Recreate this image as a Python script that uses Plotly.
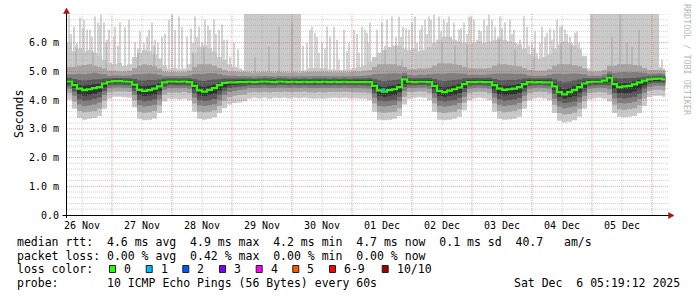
import numpy as np
import pandas as pd
import plotly.graph_objects as go

# ------------------------------------------------------------------ data
T_START = "2025-11-26 06:00"
T_DATA_END = "2025-12-06 05:19"
X_END = "2025-12-06 06:24"
SLOT_HOURS = 2

# sorted-ping envelopes (ms) per 2h slot, layer 1 = min/max ... layer 5 = p5/p6
lo1 = [4.02, 3.70, 3.38, 3.32, 3.35, 3.38, 3.45, 3.70, 4.05,
       4.12, 4.12, 4.10, 4.08, 3.75, 3.35, 3.30, 3.32, 3.36, 3.55, 3.95, 4.05,
       4.05, 4.02, 4.05, 4.00, 3.60, 3.35, 3.32, 3.35, 3.40, 3.55, 3.72, 3.85,
       3.90, 3.92, 3.95, 4.05, 4.08, 4.06, 4.08, 4.05, 4.08, 4.07, 4.08, 4.06,
       4.08, 4.07, 4.08, 4.06, 4.05, 4.06, 4.05, 4.07, 4.08, 4.07, 4.08, 4.06,
       4.06, 4.05, 4.05, 4.00, 3.60, 3.32, 3.30, 3.32, 3.35, 3.45, 3.85, 4.05,
       4.08, 4.10, 4.08, 4.00, 3.60, 3.32, 3.30, 3.32, 3.35, 3.42, 3.65, 4.00,
       4.06, 4.08, 4.06, 4.00, 3.60, 3.35, 3.32, 3.33, 3.35, 3.42, 3.70, 4.00,
       4.06, 4.08, 4.06, 4.00, 3.55, 3.28, 3.22, 3.25, 3.30, 3.42, 3.70, 4.02,
       4.06, 4.08, 4.05, 3.95, 3.55, 3.42, 3.40, 3.42, 3.45, 3.55, 3.80, 4.10,
       4.15, 4.15, 4.12]
lo2 = [4.25, 3.95, 3.62, 3.58, 3.60, 3.62, 3.70, 3.98, 4.27,
       4.30, 4.30, 4.30, 4.28, 4.00, 3.60, 3.56, 3.58, 3.62, 3.82, 4.20, 4.27,
       4.27, 4.26, 4.28, 4.25, 3.88, 3.60, 3.58, 3.60, 3.65, 3.80, 3.98, 4.10,
       4.15, 4.18, 4.20, 4.27, 4.28, 4.27, 4.28, 4.27, 4.28, 4.28, 4.29, 4.28,
       4.28, 4.28, 4.29, 4.27, 4.27, 4.28, 4.27, 4.28, 4.28, 4.28, 4.29, 4.28,
       4.27, 4.27, 4.27, 4.24, 3.88, 3.58, 3.56, 3.58, 3.60, 3.72, 4.12, 4.28,
       4.28, 4.30, 4.29, 4.24, 3.88, 3.58, 3.55, 3.58, 3.60, 3.68, 3.92, 4.24,
       4.28, 4.29, 4.28, 4.24, 3.88, 3.62, 3.58, 3.60, 3.62, 3.68, 3.96, 4.24,
       4.28, 4.29, 4.28, 4.24, 3.84, 3.55, 3.50, 3.52, 3.56, 3.70, 3.96, 4.25,
       4.27, 4.28, 4.27, 4.20, 3.84, 3.68, 3.66, 3.68, 3.72, 3.82, 4.06, 4.32,
       4.36, 4.36, 4.34]
lo3 = [4.40, 4.15, 3.85, 3.80, 3.82, 3.85, 3.92, 4.18, 4.42,
       4.44, 4.44, 4.43, 4.42, 4.18, 3.82, 3.78, 3.80, 3.84, 4.02, 4.36, 4.42,
       4.42, 4.41, 4.42, 4.40, 4.08, 3.82, 3.80, 3.82, 3.86, 4.00, 4.18, 4.28,
       4.32, 4.35, 4.37, 4.42, 4.42, 4.42, 4.43, 4.42, 4.42, 4.43, 4.43, 4.42,
       4.43, 4.42, 4.43, 4.42, 4.42, 4.42, 4.42, 4.42, 4.43, 4.42, 4.43, 4.42,
       4.42, 4.42, 4.41, 4.40, 4.08, 3.80, 3.78, 3.80, 3.83, 3.95, 4.32, 4.42,
       4.42, 4.43, 4.43, 4.40, 4.08, 3.80, 3.77, 3.80, 3.82, 3.90, 4.12, 4.40,
       4.42, 4.43, 4.42, 4.40, 4.08, 3.84, 3.80, 3.82, 3.84, 3.90, 4.15, 4.40,
       4.42, 4.43, 4.42, 4.40, 4.05, 3.78, 3.72, 3.75, 3.78, 3.92, 4.15, 4.40,
       4.42, 4.43, 4.42, 4.38, 4.06, 3.90, 3.88, 3.90, 3.94, 4.04, 4.26, 4.46,
       4.50, 4.50, 4.49]
lo4 = [4.50, 4.30, 4.02, 3.98, 4.00, 4.05, 4.10, 4.32, 4.52,
       4.53, 4.54, 4.53, 4.52, 4.32, 4.00, 3.96, 3.98, 4.02, 4.18, 4.47, 4.52,
       4.52, 4.51, 4.52, 4.50, 4.24, 4.00, 3.97, 4.00, 4.04, 4.18, 4.33, 4.42,
       4.45, 4.47, 4.48, 4.52, 4.52, 4.52, 4.53, 4.52, 4.52, 4.53, 4.53, 4.52,
       4.53, 4.52, 4.53, 4.52, 4.52, 4.52, 4.52, 4.52, 4.53, 4.52, 4.53, 4.52,
       4.52, 4.52, 4.51, 4.50, 4.24, 3.98, 3.96, 3.98, 4.00, 4.12, 4.46, 4.52,
       4.52, 4.53, 4.53, 4.50, 4.24, 3.98, 3.95, 3.98, 4.00, 4.08, 4.28, 4.50,
       4.52, 4.53, 4.52, 4.50, 4.24, 4.02, 3.98, 4.00, 4.02, 4.08, 4.30, 4.50,
       4.52, 4.53, 4.52, 4.50, 4.22, 3.96, 3.90, 3.93, 3.96, 4.10, 4.30, 4.50,
       4.52, 4.53, 4.53, 4.52, 4.24, 4.08, 4.06, 4.08, 4.12, 4.22, 4.40, 4.57,
       4.60, 4.60, 4.59]
lo5 = [4.57, 4.42, 4.20, 4.15, 4.18, 4.22, 4.28, 4.45, 4.58,
       4.60, 4.60, 4.59, 4.58, 4.44, 4.18, 4.14, 4.16, 4.20, 4.32, 4.55, 4.58,
       4.58, 4.58, 4.58, 4.57, 4.38, 4.17, 4.14, 4.18, 4.22, 4.34, 4.45, 4.52,
       4.54, 4.55, 4.56, 4.58, 4.58, 4.58, 4.59, 4.58, 4.58, 4.59, 4.59, 4.58,
       4.59, 4.58, 4.59, 4.58, 4.58, 4.58, 4.58, 4.58, 4.59, 4.58, 4.59, 4.58,
       4.58, 4.58, 4.58, 4.57, 4.37, 4.15, 4.12, 4.15, 4.18, 4.28, 4.56, 4.58,
       4.58, 4.59, 4.59, 4.57, 4.38, 4.15, 4.12, 4.15, 4.18, 4.25, 4.42, 4.57,
       4.58, 4.59, 4.58, 4.57, 4.38, 4.20, 4.16, 4.18, 4.20, 4.26, 4.43, 4.57,
       4.58, 4.59, 4.58, 4.57, 4.36, 4.12, 4.06, 4.10, 4.14, 4.27, 4.43, 4.57,
       4.58, 4.59, 4.60, 4.62, 4.40, 4.25, 4.24, 4.26, 4.30, 4.38, 4.52, 4.64,
       4.67, 4.67, 4.66]
median = [4.65, 4.52, 4.40, 4.35, 4.38, 4.42, 4.45, 4.58, 4.64,
          4.66, 4.66, 4.65, 4.64, 4.54, 4.36, 4.32, 4.35, 4.40, 4.48, 4.62, 4.65,
          4.65, 4.64, 4.65, 4.63, 4.50, 4.34, 4.30, 4.36, 4.42, 4.52, 4.60, 4.62,
          4.62, 4.63, 4.63, 4.64, 4.63, 4.64, 4.65, 4.64, 4.63, 4.65, 4.64, 4.63,
          4.64, 4.63, 4.64, 4.63, 4.64, 4.63, 4.64, 4.63, 4.64, 4.63, 4.64, 4.63,
          4.63, 4.63, 4.63, 4.63, 4.50, 4.34, 4.30, 4.35, 4.38, 4.45, 4.72, 4.64,
          4.63, 4.64, 4.64, 4.63, 4.50, 4.32, 4.28, 4.33, 4.38, 4.44, 4.56, 4.63,
          4.63, 4.64, 4.63, 4.63, 4.52, 4.40, 4.36, 4.38, 4.40, 4.45, 4.56, 4.63,
          4.62, 4.63, 4.62, 4.62, 4.48, 4.28, 4.20, 4.28, 4.35, 4.45, 4.58, 4.63,
          4.64, 4.64, 4.68, 4.78, 4.56, 4.45, 4.48, 4.50, 4.55, 4.62, 4.68, 4.72,
          4.74, 4.75, 4.72]
hi5 = [4.70, 4.62, 4.52, 4.50, 4.52, 4.55, 4.57, 4.65, 4.70,
       4.71, 4.71, 4.70, 4.70, 4.62, 4.50, 4.48, 4.50, 4.53, 4.58, 4.68, 4.70,
       4.70, 4.69, 4.70, 4.69, 4.60, 4.48, 4.46, 4.50, 4.54, 4.60, 4.66, 4.68,
       4.68, 4.68, 4.68, 4.69, 4.68, 4.69, 4.70, 4.69, 4.68, 4.70, 4.69, 4.68,
       4.69, 4.68, 4.69, 4.68, 4.69, 4.68, 4.69, 4.68, 4.69, 4.68, 4.69, 4.68,
       4.68, 4.68, 4.68, 4.69, 4.60, 4.48, 4.45, 4.48, 4.50, 4.56, 4.78, 4.70,
       4.69, 4.70, 4.70, 4.70, 4.60, 4.47, 4.44, 4.47, 4.50, 4.55, 4.64, 4.69,
       4.69, 4.70, 4.69, 4.70, 4.60, 4.52, 4.50, 4.50, 4.52, 4.56, 4.64, 4.69,
       4.68, 4.69, 4.68, 4.68, 4.58, 4.44, 4.38, 4.42, 4.48, 4.55, 4.65, 4.69,
       4.69, 4.70, 4.73, 4.83, 4.65, 4.58, 4.60, 4.60, 4.65, 4.70, 4.74, 4.77,
       4.79, 4.80, 4.78]
hi4 = [4.78, 4.74, 4.70, 4.68, 4.70, 4.72, 4.73, 4.75, 4.76,
       4.77, 4.77, 4.76, 4.76, 4.74, 4.68, 4.68, 4.70, 4.70, 4.72, 4.75, 4.76,
       4.76, 4.75, 4.76, 4.76, 4.73, 4.68, 4.67, 4.70, 4.72, 4.73, 4.75, 4.75,
       4.75, 4.75, 4.75, 4.75, 4.74, 4.75, 4.76, 4.75, 4.74, 4.76, 4.75, 4.74,
       4.75, 4.74, 4.75, 4.74, 4.75, 4.75, 4.75, 4.74, 4.75, 4.74, 4.75, 4.74,
       4.75, 4.75, 4.75, 4.76, 4.73, 4.68, 4.66, 4.68, 4.70, 4.72, 4.85, 4.77,
       4.76, 4.77, 4.77, 4.78, 4.74, 4.68, 4.66, 4.68, 4.70, 4.72, 4.76, 4.77,
       4.77, 4.77, 4.77, 4.78, 4.74, 4.70, 4.69, 4.70, 4.70, 4.72, 4.75, 4.76,
       4.75, 4.75, 4.75, 4.76, 4.72, 4.66, 4.62, 4.65, 4.68, 4.72, 4.76, 4.76,
       4.76, 4.76, 4.80, 4.90, 4.78, 4.75, 4.76, 4.76, 4.78, 4.80, 4.82, 4.83,
       4.85, 4.86, 4.84]
hi3 = [4.90, 4.90, 4.92, 4.90, 4.93, 4.95, 4.92, 4.90, 4.85,
       4.86, 4.86, 4.85, 4.86, 4.90, 4.90, 4.92, 4.93, 4.92, 4.88, 4.85, 4.84,
       4.84, 4.83, 4.84, 4.86, 4.90, 4.92, 4.92, 4.94, 4.94, 4.90, 4.87, 4.85,
       4.85, 4.84, 4.84, 4.83, 4.82, 4.83, 4.84, 4.83, 4.82, 4.84, 4.83, 4.82,
       4.83, 4.82, 4.83, 4.83, 4.84, 4.84, 4.84, 4.83, 4.83, 4.82, 4.83, 4.83,
       4.84, 4.84, 4.85, 4.87, 4.90, 4.92, 4.92, 4.93, 4.94, 4.92, 4.95, 4.88,
       4.87, 4.88, 4.88, 4.90, 4.92, 4.93, 4.92, 4.94, 4.94, 4.93, 4.92, 4.88,
       4.88, 4.88, 4.88, 4.90, 4.92, 4.93, 4.93, 4.93, 4.92, 4.92, 4.90, 4.86,
       4.85, 4.85, 4.85, 4.88, 4.92, 4.92, 4.90, 4.92, 4.93, 4.92, 4.90, 4.85,
       4.85, 4.85, 4.90, 5.00, 4.95, 4.97, 4.98, 4.97, 4.98, 4.97, 4.95, 4.92,
       4.93, 4.94, 4.92]
hi2 = [5.15, 5.15, 5.20, 5.22, 5.25, 5.20, 5.15, 5.10, 5.02,
       5.02, 5.00, 5.00, 5.02, 5.12, 5.20, 5.25, 5.22, 5.18, 5.10, 5.00, 4.98,
       4.98, 4.97, 4.98, 5.02, 5.15, 5.25, 5.25, 5.25, 5.20, 5.12, 5.05, 5.00,
       5.00, 4.98, 4.98, 4.97, 4.96, 4.97, 4.98, 4.97, 4.96, 4.98, 4.97, 4.96,
       4.97, 4.96, 4.97, 4.98, 4.99, 4.99, 4.99, 4.98, 4.97, 4.97, 4.97, 4.98,
       5.00, 5.00, 5.02, 5.05, 5.15, 5.25, 5.25, 5.25, 5.25, 5.20, 5.15, 5.08,
       5.08, 5.10, 5.10, 5.12, 5.20, 5.28, 5.28, 5.28, 5.25, 5.22, 5.15, 5.10,
       5.10, 5.10, 5.10, 5.12, 5.20, 5.25, 5.25, 5.22, 5.20, 5.18, 5.12, 5.05,
       5.02, 5.02, 5.02, 5.08, 5.20, 5.25, 5.25, 5.25, 5.22, 5.18, 5.10, 5.00,
       5.00, 5.00, 5.05, 5.20, 5.20, 5.25, 5.25, 5.25, 5.22, 5.20, 5.12, 5.05,
       5.05, 5.06, 5.04]
hi1 = [6.00, 5.70, 5.80, 5.70, 5.75, 5.65, 5.55, 5.40, 5.30,
       5.25, 5.30, 5.20, 5.25, 5.50, 5.65, 5.75, 5.70, 5.60, 5.45, 5.20, 5.10,
       5.12, 5.08, 5.10, 5.25, 5.65, 5.85, 5.90, 5.80, 5.70, 5.50, 5.40, 5.25,
       5.15, 5.10, 5.05, 5.05, 5.05, 5.08, 5.10, 5.06, 5.04, 5.08, 5.05, 5.06,
       5.05, 5.02, 5.04, 5.10, 5.12, 5.12, 5.10, 5.08, 5.06, 5.05, 5.06, 5.08,
       5.12, 5.15, 5.20, 5.35, 5.50, 5.65, 5.75, 5.85, 5.90, 5.90, 5.80, 5.75,
       5.80, 5.70, 5.75, 5.85, 6.00, 6.10, 6.20, 6.20, 6.10, 6.05, 6.00, 5.95,
       6.00, 6.05, 6.00, 6.05, 6.10, 6.15, 6.10, 6.05, 6.00, 5.95, 5.80, 5.60,
       5.50, 5.45, 5.50, 5.60, 5.80, 5.95, 6.05, 6.00, 5.90, 5.80, 5.55, 5.10,
       5.10, 5.10, 5.20, 5.50, 5.60, 5.70, 5.70, 5.65, 5.60, 5.55, 5.40, 5.20,
       5.15, 5.15, 5.10]

# periods where the max ping left the top of the graph
over_start = ["2025-11-29 04:48", "2025-12-04 23:12"]
over_end = ["2025-11-30 03:36", "2025-12-06 02:48"]

# single max-ping spikes: hours after T_START, top value (ms)
spike_h = [0.8, 1.6, 2.8, 4.0, 5.2, 6.4, 6.8, 8.0, 9.2, 10.0, 11.2, 12.4, 13.2, 13.6, 14.8,
           16.0, 16.8, 18.8, 19.2, 20.4, 21.2, 23.2, 24.8, 27.2, 29.2, 30.8, 32.0, 32.8,
           34.0, 35.2, 36.4, 38.0, 39.2,
           40.8, 42.0, 43.2, 44.8, 46.0, 48.0, 49.6, 51.2, 52.0, 52.8, 54.0, 55.2, 56.4, 57.2,
           58.8, 59.6, 60.8, 62.0, 62.8, 64.0, 65.2, 66.8, 68.4,
           94.4, 96.0, 97.2, 98.0, 99.2, 100.0, 100.8, 102.0, 103.2, 104.0, 105.2, 106.8,
           108.0, 108.8, 110.8, 112.0, 112.8, 114.8, 116.0, 116.8, 118.0, 119.2,
           120.0, 120.4, 121.2, 124.0, 126.0, 128.0, 130.0, 132.8, 133.6, 134.4, 135.6, 136.8,
           138.0, 139.2, 140.0, 141.2, 142.0, 143.2, 144.0, 144.8, 145.6, 146.8, 148.0, 148.8,
           149.6, 150.8, 152.0, 152.8, 153.6, 154.8, 156.0, 156.8, 157.6, 158.8, 160.0, 160.8,
           161.6, 162.8, 164.0, 164.8, 165.6, 166.8, 168.0, 168.8, 170.0, 171.2, 172.4, 173.2,
           174.0, 175.2, 176.0, 177.2, 178.0, 178.8,
           180.0, 181.2, 182.8, 184.0, 184.8, 186.0, 187.2, 188.0, 189.2, 190.0, 191.2, 192.0,
           193.2, 194.0, 194.8, 196.0, 197.2, 198.0, 199.2, 200.0, 201.2, 202.0, 203.2, 204.0,
           204.8, 206.0, 238.0]
spike_top = [6.98, 6.30, 6.56, 6.00, 6.87, 6.50, 6.80, 6.45, 6.45, 6.20, 6.91, 6.70, 6.60, 6.98, 6.70,
             6.10, 6.45, 6.21, 6.56, 5.90, 6.70, 6.56, 6.80, 6.00, 6.40, 6.00, 6.20, 6.45,
             6.70, 6.10, 6.00, 6.21, 6.30,
             6.80, 6.98, 6.45, 6.91, 6.56, 6.21, 6.50, 6.91, 6.20, 6.56, 6.00, 6.80, 6.60, 6.45,
             6.80, 6.30, 6.45, 6.63, 6.10, 6.10, 5.51, 6.00, 5.76,
             5.90, 6.00, 6.45, 6.56, 6.35, 6.20, 5.65, 6.00, 5.80, 6.56, 6.21, 6.56,
             6.10, 5.41, 6.45, 5.70, 6.00, 6.45, 6.30, 5.65, 6.56, 6.45,
             6.35, 6.00, 6.70, 6.45, 6.70, 6.80, 6.91, 6.91, 6.20, 6.56, 6.50, 6.45,
             6.70, 6.91, 6.00, 6.45, 6.60, 6.80, 6.30, 6.91, 6.80, 6.98, 6.10, 6.91,
             6.40, 6.80, 6.70, 6.91, 6.20, 6.70, 6.00, 6.45, 6.50, 6.70, 6.30, 6.91,
             6.90, 6.80, 6.10, 6.45, 6.40, 6.80, 6.60, 6.98, 6.80, 6.56, 6.20, 6.91,
             6.50, 6.70, 6.00, 6.80, 6.30, 6.45,
             5.86, 6.10, 6.91, 6.56, 5.90, 6.00, 6.40, 5.65, 6.00, 6.56, 6.20, 6.35,
             6.50, 6.10, 6.45, 6.80, 6.56, 6.60, 6.45, 6.30, 6.21, 6.00, 6.35, 6.40,
             6.00, 5.51, 5.41]

# second-highest ping spikes (darker thin lines)
spike2_h = [3.6, 10.4, 15.6, 28.4, 34.8, 50.4, 54.8, 75.2, 80.8, 84.8, 90.0, 127.2, 131.6,
            134.0, 150.0, 155.2, 160.0, 172.8, 179.2, 186.8, 197.6, 201.6,
            218.0, 221.2, 224.0, 226.0, 228.8]
spike2_top = [5.90, 5.70, 6.00, 5.80, 5.90, 6.00, 5.80, 5.51, 5.86, 6.56, 6.70, 5.90, 6.20,
              5.41, 6.00, 5.90, 5.93, 6.10, 5.76, 5.80, 6.00, 5.90,
              6.21, 6.98, 6.00, 5.86, 6.45]

# median samples that had packet loss
loss_time = ["2025-12-01 12:40"]
loss_value = [4.36]

day_ticks = ["2025-11-26 12:00", "2025-11-27 12:00", "2025-11-28 12:00", "2025-11-29 12:00",
             "2025-11-30 12:00", "2025-12-01 12:00", "2025-12-02 12:00", "2025-12-03 12:00",
             "2025-12-04 12:00", "2025-12-05 12:00"]
day_labels = ["26 Nov", "27 Nov", "28 Nov", "29 Nov", "30 Nov",
              "01 Dec", "02 Dec", "03 Dec", "04 Dec", "05 Dec"]
midnights = ["2025-11-27", "2025-11-28", "2025-11-29", "2025-11-30", "2025-12-01",
             "2025-12-02", "2025-12-03", "2025-12-04", "2025-12-05", "2025-12-06"]
y_ticks = [0, 1, 2, 3, 4, 5, 6]
y_labels = ["0.0", "1.0 m", "2.0 m", "3.0 m", "4.0 m", "5.0 m", "6.0 m"]

loss_labels = ["0", "1", "2", "3", "4", "5", "6-9", "10/10"]
loss_colors = ["#26ff00", "#00b8ff", "#0059ff", "#7e00ff", "#ff00ff", "#ff5500", "#ff0000", "#a10000"]

legend_rtt = "median rtt:  4.6 ms avg  4.9 ms max  4.2 ms min  4.7 ms now  0.1 ms sd  40.7   am/s"
legend_loss = "packet loss: 0.00 % avg  0.42 % max  0.00 % min  0.00 % now"
legend_probe = "probe:       10 ICMP Echo Pings (56 Bytes) every 60s"
legend_date = "Sat Dec  6 05:19:12 2025"

# ------------------------------------------------------------------ layout constants
W, H = 697, 297
ML, MR, MT, MB = 67, 29, 14, 82
PW, PH = W - ML - MR, H - MT - MB
MONO = "DejaVu Sans Mono"


def pxx(px):
    return (px - ML) / PW


def pxy(py):
    return (H - MB - py) / PH


def nb(s):
    return s.replace(" ", "\u00a0")


for arr in (lo1, lo2, lo3, lo4, lo5, median, hi5, hi4, hi3, hi2, hi1):
    assert len(arr) == len(median)
assert len(spike_h) == len(spike_top)
assert len(spike2_h) == len(spike2_top)

t0 = pd.Timestamp(T_START)
slot_x = [t0 + pd.Timedelta(hours=SLOT_HOURS * i) for i in range(len(median))]
step_x = slot_x + [pd.Timestamp(T_DATA_END)]


def ext(a):
    return list(a) + [a[-1]]


fig = go.Figure()

# overflow blocks
for s, e in zip(over_start, over_end):
    fig.add_trace(go.Scatter(x=[s, s, e, e, s], y=[4.6, 7.2, 7.2, 4.6, 4.6], mode="lines",
                             fill="toself", fillcolor="#cacaca", line=dict(width=0),
                             hoverinfo="skip", showlegend=False))


def band(lo, hi, color):
    fig.add_trace(go.Scatter(x=step_x, y=ext(lo), mode="lines", line=dict(width=0, shape="hv"),
                             hoverinfo="skip", showlegend=False))
    fig.add_trace(go.Scatter(x=step_x, y=ext(hi), mode="lines", line=dict(width=0, shape="hv"),
                             fill="tonexty", fillcolor=color, hoverinfo="skip", showlegend=False))


def spikes(hours, tops, color, width):
    xs, ys = [], []
    for h, tp in zip(hours, tops):
        t = t0 + pd.Timedelta(hours=h)
        xs += [t, t, None]
        ys += [4.9, tp, None]
    fig.add_trace(go.Scatter(x=xs, y=ys, mode="lines", line=dict(width=width, color=color),
                             hoverinfo="skip", showlegend=False))


band(lo1, hi1, "#cacaca")
spikes(spike_h, spike_top, "#c6c6c6", 1.5)
band(lo2, hi2, "#a4a4a4")
spikes(spike2_h, spike2_top, "#a4a4a4", 1.0)
band(lo3, hi3, "#7e7e7e")
band(lo4, hi4, "#585858")
band(lo5, hi5, "#323232")

fig.add_trace(go.Scatter(x=step_x, y=ext(median), mode="lines",
                         line=dict(width=2.2, color=loss_colors[0], shape="hv"),
                         hoverinfo="skip", showlegend=False))
fig.add_trace(go.Scatter(x=loss_time, y=loss_value, mode="markers",
                         marker=dict(symbol="square", size=3, color=loss_colors[1]),
                         hoverinfo="skip", showlegend=False))

shapes = []
# grid (drawn above the smoke, like rrdtool)
for v in np.round(np.arange(0.2, 7.01, 0.2), 1):
    if abs(v - round(v)) < 1e-6 and 1 <= v <= 6:
        col = "rgba(220,80,80,0.55)"
    else:
        col = "rgba(150,150,150,0.45)"
    shapes.append(dict(type="line", xref="paper", yref="y", x0=0, x1=1, y0=v, y1=v,
                       line=dict(color=col, width=1, dash="1px,1px"), layer="above"))
for d in day_ticks:
    shapes.append(dict(type="line", xref="x", yref="paper", x0=d, x1=d, y0=0, y1=1,
                       line=dict(color="rgba(150,150,150,0.45)", width=1, dash="1px,1px"), layer="above"))
for d in midnights:
    shapes.append(dict(type="line", xref="x", yref="paper", x0=d, x1=d, y0=0, y1=1,
                       line=dict(color="rgba(220,80,80,0.55)", width=1, dash="1px,1px"), layer="above"))

# axes with arrows
shapes.append(dict(type="line", xref="paper", yref="paper", x0=pxx(62.5), x1=pxx(669), y0=pxy(215.5), y1=pxy(215.5),
                   line=dict(color="#000000", width=1), layer="above"))
shapes.append(dict(type="line", xref="paper", yref="paper", x0=pxx(66.5), x1=pxx(66.5), y0=pxy(218), y1=pxy(12),
                   line=dict(color="#000000", width=1), layer="above"))
arrow_col = "#a01818"
shapes.append(dict(type="path", xref="paper", yref="paper",
                   path=f"M {pxx(668.5)},{pxy(212.5)} L {pxx(674)},{pxy(215.5)} L {pxx(668.5)},{pxy(218.5)} Z",
                   fillcolor=arrow_col, line=dict(color=arrow_col, width=0.5), layer="above"))
shapes.append(dict(type="path", xref="paper", yref="paper",
                   path=f"M {pxx(63.5)},{pxy(13.5)} L {pxx(66.5)},{pxy(8)} L {pxx(69.5)},{pxy(13.5)} Z",
                   fillcolor=arrow_col, line=dict(color=arrow_col, width=0.5), layer="above"))

annotations = []


def text(px, py, s, size=11.5, anchor="left", color="#000000", angle=0):
    annotations.append(dict(xref="paper", yref="paper", x=pxx(px), y=pxy(py), text=nb(s),
                            showarrow=False, xanchor=anchor, yanchor="middle", textangle=angle,
                            borderpad=0, font=dict(family=MONO, size=size, color=color)))


text(16, 242, legend_rtt)
text(16, 255.5, legend_loss)
text(16, 269, "loss color:")
text(16, 282.5, legend_probe)
text(681, 282.5, legend_date, anchor="right")

sq_x = [109, 145.7, 182.3, 219, 255.7, 292.3, 329, 381.7]
for xq, lab, col in zip(sq_x, loss_labels, loss_colors):
    shapes.append(dict(type="rect", xref="paper", yref="paper",
                       x0=pxx(xq + 0.5), x1=pxx(xq + 6.5), y0=pxy(265.5), y1=pxy(272.5),
                       fillcolor=col, line=dict(color="#202020", width=1), layer="above"))
    text(xq + 14, 269, lab)

text(11, 114, "Seconds", angle=-90)
text(687, 60, "RRDTOOL / TOBI OETIKER", size=8.4, anchor="center", color="#b8b8b8", angle=90)

fig.update_layout(
    width=W, height=H, margin=dict(l=ML, r=MR, t=MT, b=MB, pad=0),
    paper_bgcolor="#ffffff", plot_bgcolor="#ffffff", template=None,
    showlegend=False, shapes=shapes, annotations=annotations,
    xaxis=dict(type="date", range=[T_START, X_END], tickvals=day_ticks, ticktext=day_labels,
               showgrid=False, zeroline=False, showline=False, ticks="",
               tickfont=dict(family=MONO, size=10, color="#000000"), ticklabelstandoff=3,
               fixedrange=True),
    yaxis=dict(range=[0, 7.0], tickvals=y_ticks, ticktext=y_labels, showgrid=False,
               zeroline=False, showline=False, ticks="",
               tickfont=dict(family=MONO, size=10, color="#000000"), ticklabelstandoff=7,
               fixedrange=True),
)

fig.write_html("out.html")
